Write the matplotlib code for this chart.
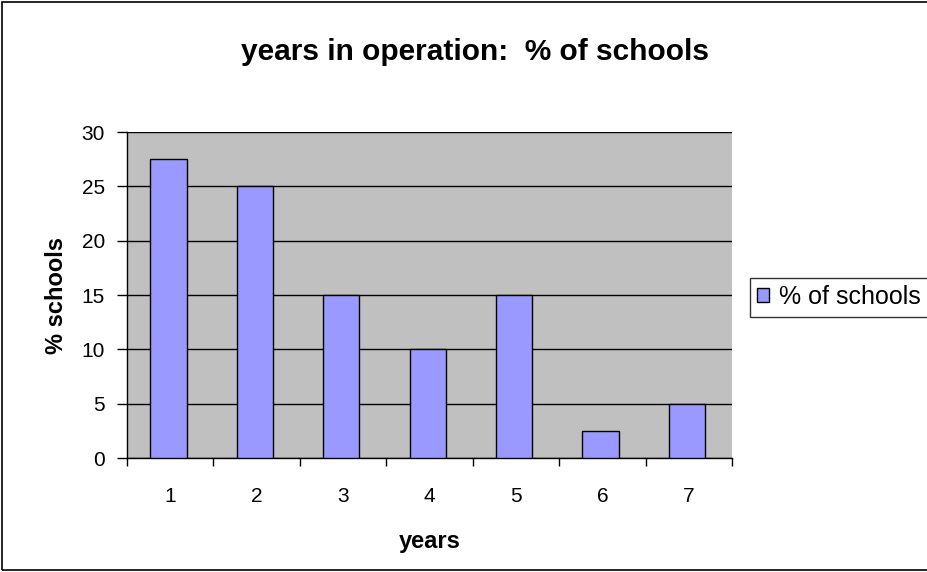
import numpy as np
import matplotlib.pyplot as plt
from matplotlib.patches import Rectangle

years = ["1", "2", "3", "4", "5", "6", "7"]
pct_schools = [27.5, 25, 15, 10, 15, 2.5, 5]

plt.rcParams['font.family'] = ['Liberation Sans', 'DejaVu Sans']

fig = plt.figure(figsize=(9.28, 5.72), dpi=100)
ax = fig.add_axes([127 / 928, 1 - 458 / 572, 605 / 928, 326 / 572])

x = np.arange(len(years))
ax.bar(x - 0.02, pct_schools, width=0.42, color="#9999FF", edgecolor="black",
       linewidth=1, label="% of schools", zorder=3)

ax.set_facecolor("#C0C0C0")
ax.set_xlim(-0.5, len(years) - 0.5)
ax.set_ylim(0, 30)
ax.set_yticks(range(0, 31, 5))
ax.yaxis.grid(True, color="black", linewidth=1, zorder=1)
ax.set_axisbelow(True)

# ticks between categories, labels centered under bars
ax.set_xticks(np.arange(-0.5, len(years), 1))
ax.set_xticklabels([])
ax.set_xticks(x, minor=True)
ax.set_xticklabels(years, minor=True)
ax.tick_params(axis="x", which="minor", length=0, pad=21, labelsize=15)
ax.tick_params(axis="x", which="major", length=6, width=1, direction="out")
ax.tick_params(axis="y", length=7, width=1, direction="out", labelsize=15, pad=9)

for side in ["top", "right"]:
    ax.spines[side].set_visible(False)
ax.spines["left"].set_linewidth(1)
ax.spines["bottom"].set_linewidth(1)

ax.set_xlabel("years", fontsize=17, fontweight="bold", labelpad=17)
ax.set_ylabel("% schools", fontsize=17, fontweight="bold", labelpad=10)
fig.text(475 / 928, 1 - 52 / 572, "years in operation:  % of schools",
         ha="center", va="center", fontsize=21.5, fontweight="bold")

leg = ax.legend(loc="center left", bbox_to_anchor=(750 / 928, 1 - 297 / 572),
                bbox_transform=fig.transFigure, frameon=True, fancybox=False,
                fontsize=18, handlelength=0.45, handleheight=0.45,
                handletextpad=0.4, borderpad=0.3, borderaxespad=0)
leg.get_frame().set_edgecolor("black")
leg.get_frame().set_linewidth(1)

fig.patches.append(Rectangle((2 / 928, 2 / 572), 1.2, 568 / 572,
                             transform=fig.transFigure, fill=False,
                             edgecolor="black", linewidth=1.2))

fig.savefig("out.png", dpi=100)
